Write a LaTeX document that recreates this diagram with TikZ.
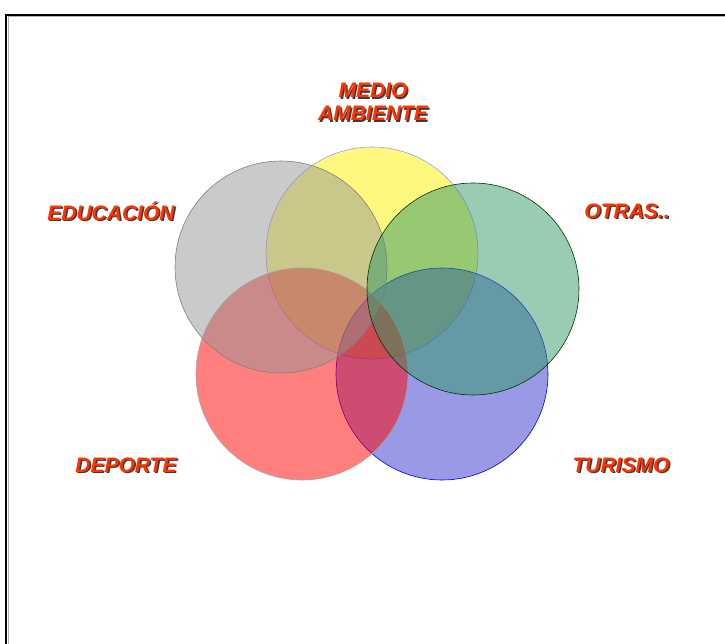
\documentclass[tikz,border=0pt]{standalone}
\usepackage{fontspec}
\setmainfont{Liberation Sans}
\usepackage{tikz}

\definecolor{rotulo}{RGB}{255,51,0}
\definecolor{sombra}{RGB}{60,60,60}
\definecolor{verde}{RGB}{51,153,102}
\definecolor{azul}{RGB}{51,51,204}
\definecolor{gris}{RGB}{149,149,149}

\tikzset{
  area/.style={circle,minimum size=212pt,inner sep=0pt,line width=0.6pt,fill opacity=0.5},
  sombrarot/.style={font=\bfseries\itshape\fontsize{21}{23}\selectfont,text=sombra,align=center,inner sep=0pt},
  rot/.style={font=\bfseries\itshape\fontsize{21}{23}\selectfont,text=rotulo,align=center,inner sep=0pt}
}

\newcommand{\etiqueta}[3]{%
  \node[sombrarot] at ([shift={(1.5,1.5)}]#2) {#3};
  \node[rot] (#1) at (#2) {#3};
}

\begin{document}
\begin{tikzpicture}[x=1pt,y=-1pt]
  \useasboundingbox (0,0) rectangle (725,644);
  % marco
  \draw[gray!60,line width=1pt] (8,644) -- (8,17) -- (725,17);
  \draw[black,line width=1.2pt] (6,644) -- (6,15) -- (725,15);

  % circulos
  \node[area,fill=yellow,draw=blue!40] (medio) at (372,253) {};
  \node[area,fill=azul,draw=blue!85!black] (turismo) at (442,374) {};
  \node[area,fill=red,draw=gray!70] (deporte) at (302,374) {};
  \node[area,fill=gris,draw=gray] (educ) at (281,267) {};
  \node[area,fill=verde,draw=black!80!green] (otras) at (473,289) {};

  % rotulos
  \etiqueta{tmedio}{373,102}{MEDIO\\AMBIENTE}
  \etiqueta{teduc}{111,211}{EDUCACIÓN}
  \etiqueta{totras}{627,211}{OTRAS..}
  \etiqueta{tdeporte}{126,465}{DEPORTE}
  \etiqueta{tturismo}{621,465}{TURISMO}
\end{tikzpicture}
\end{document}
